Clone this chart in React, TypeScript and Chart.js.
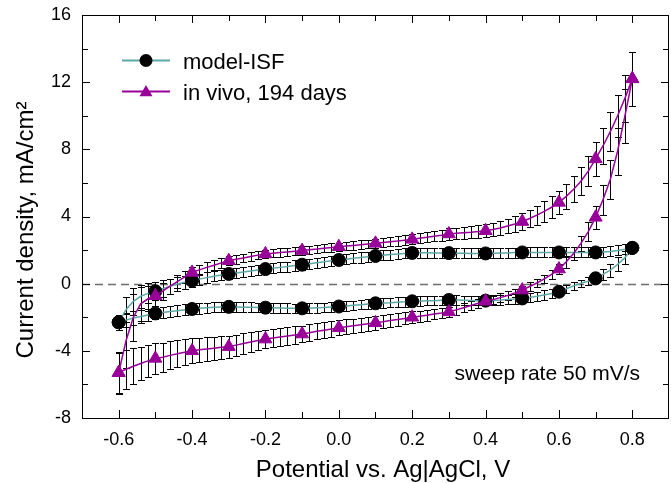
import { useEffect, useRef } from "react";
import { Chart, registerables } from "chart.js";

Chart.register(...registerables);

// ---------- data ----------
const seriesNames = ["model-ISF", "in vivo, 194 days"];
const xAxisTitle = "Potential vs. Ag|AgCl, V";
const yAxisTitle = "Current density, mA/cm²";
const annotationText = "sweep rate 50 mV/s";

// potential of the forward (anodic) sweep, V
const potentialAnodic = [
  -0.6, -0.58, -0.56, -0.54, -0.52, -0.5, -0.48, -0.46, -0.44, -0.42,
  -0.4, -0.38, -0.36, -0.34, -0.32, -0.3, -0.28, -0.26, -0.24, -0.22,
  -0.2, -0.18, -0.16, -0.14, -0.12, -0.1, -0.08, -0.06, -0.04, -0.02,
  0.0, 0.02, 0.04, 0.06, 0.08, 0.1, 0.12, 0.14, 0.16, 0.18,
  0.2, 0.22, 0.24, 0.26, 0.28, 0.3, 0.32, 0.34, 0.36, 0.38,
  0.4, 0.42, 0.44, 0.46, 0.48, 0.5, 0.52, 0.54, 0.56, 0.58,
  0.6, 0.62, 0.64, 0.66, 0.68, 0.7, 0.72, 0.74, 0.76, 0.78,
  0.8,
];
// potential of the reverse (cathodic) sweep, V
const potentialCathodic = [
  0.8, 0.78, 0.76, 0.74, 0.72, 0.7, 0.68, 0.66, 0.64, 0.62,
  0.6, 0.58, 0.56, 0.54, 0.52, 0.5, 0.48, 0.46, 0.44, 0.42,
  0.4, 0.38, 0.36, 0.34, 0.32, 0.3, 0.28, 0.26, 0.24, 0.22,
  0.2, 0.18, 0.16, 0.14, 0.12, 0.1, 0.08, 0.06, 0.04, 0.02,
  0.0, -0.02, -0.04, -0.06, -0.08, -0.1, -0.12, -0.14, -0.16, -0.18,
  -0.2, -0.22, -0.24, -0.26, -0.28, -0.3, -0.32, -0.34, -0.36, -0.38,
  -0.4, -0.42, -0.44, -0.46, -0.48, -0.5, -0.52, -0.54, -0.56, -0.58,
  -0.6,
];

// model-ISF, mA/cm2
const modelAnodic = [
  -2.3, -1.55, -1.05, -0.75, -0.58, -0.45, -0.3, -0.15, -0.02, 0.08,
  0.18, 0.27, 0.36, 0.44, 0.51, 0.58, 0.64, 0.7, 0.76, 0.82,
  0.87, 0.92, 0.97, 1.02, 1.08, 1.13, 1.19, 1.25, 1.3, 1.36,
  1.41, 1.46, 1.51, 1.56, 1.61, 1.65, 1.69, 1.73, 1.77, 1.8,
  1.83, 1.84, 1.84, 1.83, 1.82, 1.82, 1.81, 1.81, 1.8, 1.8,
  1.8, 1.81, 1.82, 1.83, 1.85, 1.86, 1.86, 1.86, 1.86, 1.86,
  1.86, 1.86, 1.86, 1.86, 1.86, 1.86, 1.88, 1.92, 1.98, 2.05,
  2.13,
];
const modelAnodicErr = [
  0.45, 0.75, 0.8, 0.7, 0.6, 0.55, 0.5, 0.45, 0.42, 0.38,
  0.35, 0.33, 0.32, 0.31, 0.3, 0.3, 0.3, 0.3, 0.3, 0.3,
  0.3, 0.3, 0.3, 0.3, 0.3, 0.3, 0.3, 0.3, 0.3, 0.3,
  0.3, 0.3, 0.3, 0.3, 0.3, 0.3, 0.3, 0.3, 0.3, 0.3,
  0.3, 0.3, 0.3, 0.3, 0.3, 0.3, 0.3, 0.3, 0.3, 0.3,
  0.3, 0.3, 0.3, 0.3, 0.3, 0.3, 0.3, 0.3, 0.3, 0.3,
  0.3, 0.3, 0.3, 0.3, 0.3, 0.3, 0.3, 0.3, 0.3, 0.3,
  0.32,
];
const modelCathodic = [
  2.13, 1.55, 1.15, 0.8, 0.55, 0.32, 0.15, 0.02, -0.13, -0.3,
  -0.48, -0.58, -0.67, -0.75, -0.82, -0.88, -0.92, -0.95, -0.98, -1.0,
  -1.01, -1.01, -1.0, -0.99, -0.98, -0.97, -0.99, -1.01, -1.02, -1.04,
  -1.05, -1.08, -1.1, -1.13, -1.15, -1.17, -1.21, -1.25, -1.29, -1.33,
  -1.36, -1.39, -1.42, -1.44, -1.46, -1.47, -1.47, -1.46, -1.45, -1.44,
  -1.43, -1.42, -1.41, -1.4, -1.39, -1.38, -1.39, -1.41, -1.44, -1.47,
  -1.51, -1.56, -1.61, -1.66, -1.71, -1.77, -1.86, -1.95, -2.05, -2.17,
  -2.3,
];
const modelCathodicErr = [
  0.32, 0.4, 0.42, 0.4, 0.32, 0.25, 0.22, 0.22, 0.24, 0.25,
  0.27, 0.28, 0.28, 0.28, 0.28, 0.28, 0.28, 0.28, 0.28, 0.28,
  0.28, 0.28, 0.28, 0.28, 0.28, 0.28, 0.28, 0.28, 0.28, 0.28,
  0.28, 0.28, 0.28, 0.28, 0.28, 0.28, 0.28, 0.28, 0.28, 0.28,
  0.28, 0.28, 0.28, 0.28, 0.28, 0.28, 0.28, 0.28, 0.28, 0.28,
  0.29, 0.29, 0.29, 0.29, 0.3, 0.3, 0.3, 0.3, 0.31, 0.31,
  0.32, 0.32, 0.33, 0.33, 0.34, 0.35, 0.38, 0.4, 0.42, 0.44,
  0.45,
];

// in vivo, 194 days, mA/cm2
const vivoAnodic = [
  -5.3, -3.4, -2.0, -1.2, -0.9, -0.72, -0.45, -0.15, 0.12, 0.4,
  0.67, 0.82, 0.97, 1.1, 1.24, 1.37, 1.45, 1.53, 1.62, 1.7,
  1.77, 1.81, 1.85, 1.89, 1.93, 1.97, 2.02, 2.06, 2.11, 2.15,
  2.2, 2.24, 2.28, 2.32, 2.36, 2.4, 2.45, 2.5, 2.54, 2.59,
  2.64, 2.7, 2.76, 2.83, 2.89, 2.96, 3.0, 3.03, 3.06, 3.1,
  3.15, 3.23, 3.32, 3.43, 3.55, 3.7, 3.88, 4.08, 4.3, 4.55,
  4.84, 5.2, 5.62, 6.1, 6.7, 7.43, 8.2, 9.05, 10.0, 11.05,
  12.2,
];
const vivoAnodicErr = [
  1.2, 1.6, 1.4, 1.0, 0.75, 0.6, 0.5, 0.45, 0.4, 0.35,
  0.32, 0.3, 0.3, 0.28, 0.28, 0.27, 0.27, 0.26, 0.26, 0.26,
  0.25, 0.25, 0.25, 0.25, 0.25, 0.25, 0.25, 0.25, 0.25, 0.25,
  0.25, 0.25, 0.25, 0.26, 0.26, 0.26, 0.27, 0.27, 0.28, 0.28,
  0.29, 0.3, 0.3, 0.31, 0.32, 0.33, 0.34, 0.35, 0.36, 0.37,
  0.38, 0.4, 0.42, 0.44, 0.47, 0.5, 0.53, 0.57, 0.61, 0.65,
  0.7, 0.74, 0.78, 0.83, 0.9, 1.0, 1.08, 1.15, 1.25, 1.4,
  1.6,
];
const vivoCathodic = [
  12.2, 10.0, 7.9, 6.2, 5.0, 3.95, 3.1, 2.4, 1.8, 1.3,
  0.87, 0.55, 0.28, 0.04, -0.17, -0.38, -0.55, -0.7, -0.83, -0.95,
  -1.05, -1.17, -1.3, -1.43, -1.56, -1.68, -1.75, -1.81, -1.88, -1.94,
  -2.0, -2.07, -2.14, -2.2, -2.27, -2.33, -2.39, -2.45, -2.51, -2.57,
  -2.63, -2.7, -2.77, -2.84, -2.92, -3.0, -3.06, -3.12, -3.18, -3.24,
  -3.3, -3.38, -3.47, -3.56, -3.66, -3.75, -3.79, -3.84, -3.89, -3.94,
  -4.0, -4.08, -4.17, -4.27, -4.38, -4.45, -4.6, -4.75, -4.92, -5.1,
  -5.3,
];
const vivoCathodicErr = [
  1.6, 1.6, 1.4, 1.15, 0.9, 0.7, 0.55, 0.45, 0.4, 0.35,
  0.3, 0.28, 0.26, 0.25, 0.25, 0.25, 0.25, 0.25, 0.25, 0.25,
  0.25, 0.26, 0.27, 0.28, 0.29, 0.3, 0.31, 0.32, 0.33, 0.34,
  0.35, 0.36, 0.37, 0.38, 0.39, 0.4, 0.41, 0.42, 0.43, 0.44,
  0.45, 0.46, 0.47, 0.48, 0.49, 0.5, 0.51, 0.52, 0.53, 0.54,
  0.55, 0.57, 0.59, 0.61, 0.63, 0.65, 0.67, 0.69, 0.71, 0.73,
  0.75, 0.78, 0.81, 0.84, 0.87, 0.9, 0.95, 1.0, 1.08, 1.15,
  1.25,
];

// ---------- styling ----------
const FONT = "'Liberation Sans', Arial, Helvetica, sans-serif";
const TEAL = "#5fa7a7";
const PURPLE = "#990099";
const CIRCLE_R = 6.5;
const TRI_R = 7.5;

function isTenth(v: number) {
  return Math.abs(v * 10 - Math.round(v * 10)) < 1e-6;
}

function toPoints(xs: number[], ys: number[]) {
  return xs.map((x, i) => ({ x, y: ys[i] }));
}

function drawTriangle(ctx: CanvasRenderingContext2D, x: number, y: number, r: number) {
  let rad = 0;
  ctx.beginPath();
  ctx.moveTo(x + Math.sin(rad) * r, y - Math.cos(rad) * r);
  rad += (2 * Math.PI) / 3;
  ctx.lineTo(x + Math.sin(rad) * r, y - Math.cos(rad) * r);
  rad += (2 * Math.PI) / 3;
  ctx.lineTo(x + Math.sin(rad) * r, y - Math.cos(rad) * r);
  ctx.closePath();
}

const decorPlugin = {
  id: "cvDecor",
  beforeDatasetsDraw(chart: any) {
    const { ctx, chartArea: a, scales } = chart;
    const x = scales.x;
    const y = scales.y;
    ctx.save();
    // dashed zero line
    const y0 = Math.round(y.getPixelForValue(0)) + 0.5;
    ctx.strokeStyle = "#6e6e6e";
    ctx.lineWidth = 1.5;
    ctx.setLineDash([8, 5]);
    ctx.beginPath();
    ctx.moveTo(a.left, y0);
    ctx.lineTo(a.right, y0);
    ctx.stroke();
    ctx.setLineDash([]);
    // error bars
    ctx.strokeStyle = "#000";
    ctx.lineWidth = 1;
    chart.data.datasets.forEach((ds: any) => {
      const errs: number[] = ds.errors;
      if (!errs) return;
      ds.data.forEach((p: any, i: number) => {
        const e = errs[i];
        const px = Math.round(x.getPixelForValue(p.x)) + 0.5;
        const yt = Math.round(y.getPixelForValue(p.y + e)) + 0.5;
        const yb = Math.round(y.getPixelForValue(p.y - e)) + 0.5;
        ctx.beginPath();
        ctx.moveTo(px, yt);
        ctx.lineTo(px, yb);
        ctx.moveTo(px - 3.5, yt);
        ctx.lineTo(px + 3.5, yt);
        ctx.moveTo(px - 3.5, yb);
        ctx.lineTo(px + 3.5, yb);
        ctx.stroke();
      });
    });
    ctx.restore();
  },
  afterDraw(chart: any) {
    const { ctx, chartArea: a, scales } = chart;
    const x = scales.x;
    const y = scales.y;
    ctx.save();
    ctx.strokeStyle = "#000";
    ctx.lineWidth = 1;
    // frame
    ctx.strokeRect(Math.round(a.left) + 0.5, Math.round(a.top) + 0.5, Math.round(a.right - a.left) - 1, Math.round(a.bottom - a.top));
    // inward ticks
    ctx.beginPath();
    x.ticks.forEach((t: any) => {
      const k = Math.round(t.value * 10);
      if (k <= -7 || k >= 9) return;
      const len = k % 2 === 0 ? 8 : 6;
      const px = Math.round(x.getPixelForValue(k / 10)) + 0.5;
      ctx.moveTo(px, a.bottom);
      ctx.lineTo(px, a.bottom - len);
      ctx.moveTo(px, a.top);
      ctx.lineTo(px, a.top + len);
    });
    y.ticks.forEach((t: any) => {
      const v = Math.round(t.value);
      if (v <= -8 || v >= 16) return;
      const len = v % 4 === 0 ? 8 : 6;
      const py = Math.round(y.getPixelForValue(v)) + 0.5;
      ctx.moveTo(a.left, py);
      ctx.lineTo(a.left + len, py);
      ctx.moveTo(a.right, py);
      ctx.lineTo(a.right - len, py);
    });
    ctx.stroke();

    // axis titles
    ctx.fillStyle = "#000";
    ctx.font = `24px ${FONT}`;
    ctx.textAlign = "center";
    ctx.textBaseline = "middle";
    ctx.fillText(xAxisTitle, 383, 470);
    ctx.save();
    ctx.translate(26, 230);
    ctx.rotate(-Math.PI / 2);
    ctx.fillText(yAxisTitle, 0, 0);
    ctx.restore();

    // legend
    const legendY = [60, 91];
    const colors = [TEAL, PURPLE];
    seriesNames.forEach((name, i) => {
      const ly = legendY[i];
      ctx.strokeStyle = colors[i];
      ctx.lineWidth = 2;
      ctx.beginPath();
      ctx.moveTo(122, ly + 0.5);
      ctx.lineTo(170, ly + 0.5);
      ctx.stroke();
      if (i === 0) {
        ctx.fillStyle = "#000";
        ctx.beginPath();
        ctx.arc(146, ly + 0.5, CIRCLE_R, 0, Math.PI * 2);
        ctx.fill();
      } else {
        ctx.fillStyle = PURPLE;
        drawTriangle(ctx, 146, ly + 1.5, TRI_R);
        ctx.fill();
      }
      ctx.fillStyle = "#000";
      ctx.font = `22px ${FONT}`;
      ctx.textAlign = "left";
      ctx.textBaseline = "alphabetic";
      ctx.fillText(name, 183, ly + 9);
    });

    // annotation
    ctx.fillStyle = "#000";
    ctx.font = `21px ${FONT}`;
    ctx.textAlign = "right";
    ctx.textBaseline = "alphabetic";
    ctx.fillText(annotationText, 640, 380);
    ctx.restore();
  },
};

function fixBox(s: any, size: { width?: number; height?: number }) {
  if (size.width !== undefined) s.width = size.width;
  if (size.height !== undefined) s.height = size.height;
  s.paddingTop = 0;
  s.paddingBottom = 0;
  s.paddingLeft = 0;
  s.paddingRight = 0;
}

export default function App() {
  const canvasRef = useRef<HTMLCanvasElement | null>(null);

  useEffect(() => {
    const canvas = canvasRef.current;
    if (!canvas) return;

    const modelData = [...toPoints(potentialAnodic, modelAnodic), ...toPoints(potentialCathodic, modelCathodic)];
    const modelErr = [...modelAnodicErr, ...modelCathodicErr];
    const vivoData = [...toPoints(potentialAnodic, vivoAnodic), ...toPoints(potentialCathodic, vivoCathodic)];
    const vivoErr = [...vivoAnodicErr, ...vivoCathodicErr];

    const chart = new Chart(canvas, {
      type: "scatter",
      data: {
        datasets: [
          {
            label: seriesNames[1],
            data: vivoData,
            errors: vivoErr,
            showLine: true,
            order: 0,
            borderColor: PURPLE,
            borderWidth: 1.5,
            pointStyle: "triangle",
            pointBackgroundColor: PURPLE,
            pointBorderColor: PURPLE,
            pointBorderWidth: 1,
            pointRadius: (c: any) => (c.raw && isTenth(c.raw.x) ? TRI_R : 0),
          } as any,
          {
            label: seriesNames[0],
            data: modelData,
            errors: modelErr,
            showLine: true,
            order: 1,
            borderColor: TEAL,
            borderWidth: 1.5,
            pointStyle: "circle",
            pointBackgroundColor: "#000",
            pointBorderColor: "#000",
            pointBorderWidth: 1,
            pointRadius: (c: any) => (c.raw && isTenth(c.raw.x) ? CIRCLE_R : 0),
          } as any,
        ],
      },
      options: {
        animation: false,
        responsive: true,
        maintainAspectRatio: false,
        events: [],
        layout: { autoPadding: false, padding: { top: 15, right: 2, left: 0, bottom: 0 } },
        plugins: {
          legend: { display: false },
          tooltip: { enabled: false },
        },
        scales: {
          x: {
            type: "linear",
            min: -0.7,
            max: 0.9,
            afterFit: (s: any) => fixBox(s, { height: 65 }),
            grid: { display: false, drawTicks: false },
            border: { display: false },
            ticks: {
              stepSize: 0.1,
              autoSkip: false,
              maxRotation: 0,
              padding: 11,
              color: "#000",
              font: { family: FONT, size: 18 },
              callback: (v: any) => {
                const k = Math.round(Number(v) * 10);
                return k % 2 === 0 && k >= -6 && k <= 8 ? (k / 10).toFixed(1) : "";
              },
            },
            title: { display: false },
          },
          y: {
            type: "linear",
            min: -8,
            max: 16,
            afterFit: (s: any) => fixBox(s, { width: 82 }),
            grid: { display: false, drawTicks: false },
            border: { display: false },
            ticks: {
              stepSize: 2,
              autoSkip: false,
              padding: 11,
              color: "#000",
              font: { family: FONT, size: 18 },
              callback: (v: any) => {
                const n = Math.round(Number(v));
                return n % 4 === 0 ? String(n) : "";
              },
            },
            title: { display: false },
          },
        },
      },
      plugins: [decorPlugin],
    } as any);

    return () => {
      chart.destroy();
    };
  }, []);

  return (
    <div style={{ position: "fixed", left: 0, top: 0, width: 671, height: 483, background: "#fff" }}>
      <canvas ref={canvasRef} />
    </div>
  );
}
